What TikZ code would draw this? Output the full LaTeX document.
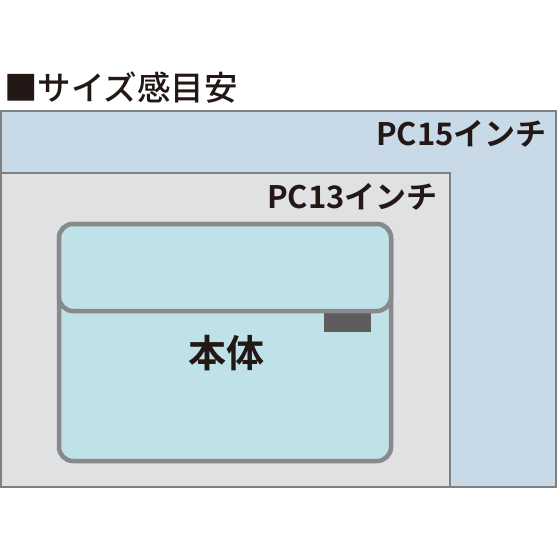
\documentclass[tikz,border=0pt]{standalone}
\usepackage{fontspec}
\newfontfamily\jp{Noto Sans CJK JP Medium}
\newfontfamily\jpb{Noto Sans CJK JP Bold}
\definecolor{pcfifteen}{HTML}{C8D9E7}
\definecolor{pcthirteen}{HTML}{E0E1E2}
\definecolor{bodyfill}{HTML}{BFE2E8}
\definecolor{bodyline}{HTML}{87898B}
\definecolor{frameline}{HTML}{7E8082}
\definecolor{tabfill}{HTML}{5F5C5D}
\definecolor{ink}{HTML}{231815}
\tikzset{
  framebox/.style={draw=frameline, line width=1.2pt},
  devbox/.style={draw=bodyline, fill=bodyfill, line width=4.5pt, rounded corners=14pt},
  lbl/.style={text=ink, inner sep=0pt},
}
\begin{document}
\begin{tikzpicture}[x=1pt,y=-1pt]
\useasboundingbox (0,0) rectangle (560,560);
\fill[white] (0,0) rectangle (560,560);
% PC15 frame
\draw[framebox, fill=pcfifteen] (1,111) rectangle (556,487);
% PC13 frame
\draw[framebox, fill=pcthirteen] (1,173) rectangle (450,487);
% device body
\draw[devbox] (59,224) rectangle (391,461);
\fill[tabfill] (324,313) rectangle (371,332);
\draw[devbox] (59,224) rectangle (391,311);
% labels
\node[lbl, anchor=west, font=\jp\fontsize{33.5}{33.5}\selectfont] (title) at (4,88) {■サイズ感目安};
\node[lbl, anchor=east, font=\jpb\fontsize{31}{31}\selectfont] (pc15) at (547,134) {PC15インチ};
\node[lbl, anchor=east, font=\jpb\fontsize{31}{31}\selectfont] (pc13) at (438,197) {PC13インチ};
\node[lbl, font=\jpb\fontsize{38}{38}\selectfont] (hontai) at (226,353) {本体};
\end{tikzpicture}
\end{document}
